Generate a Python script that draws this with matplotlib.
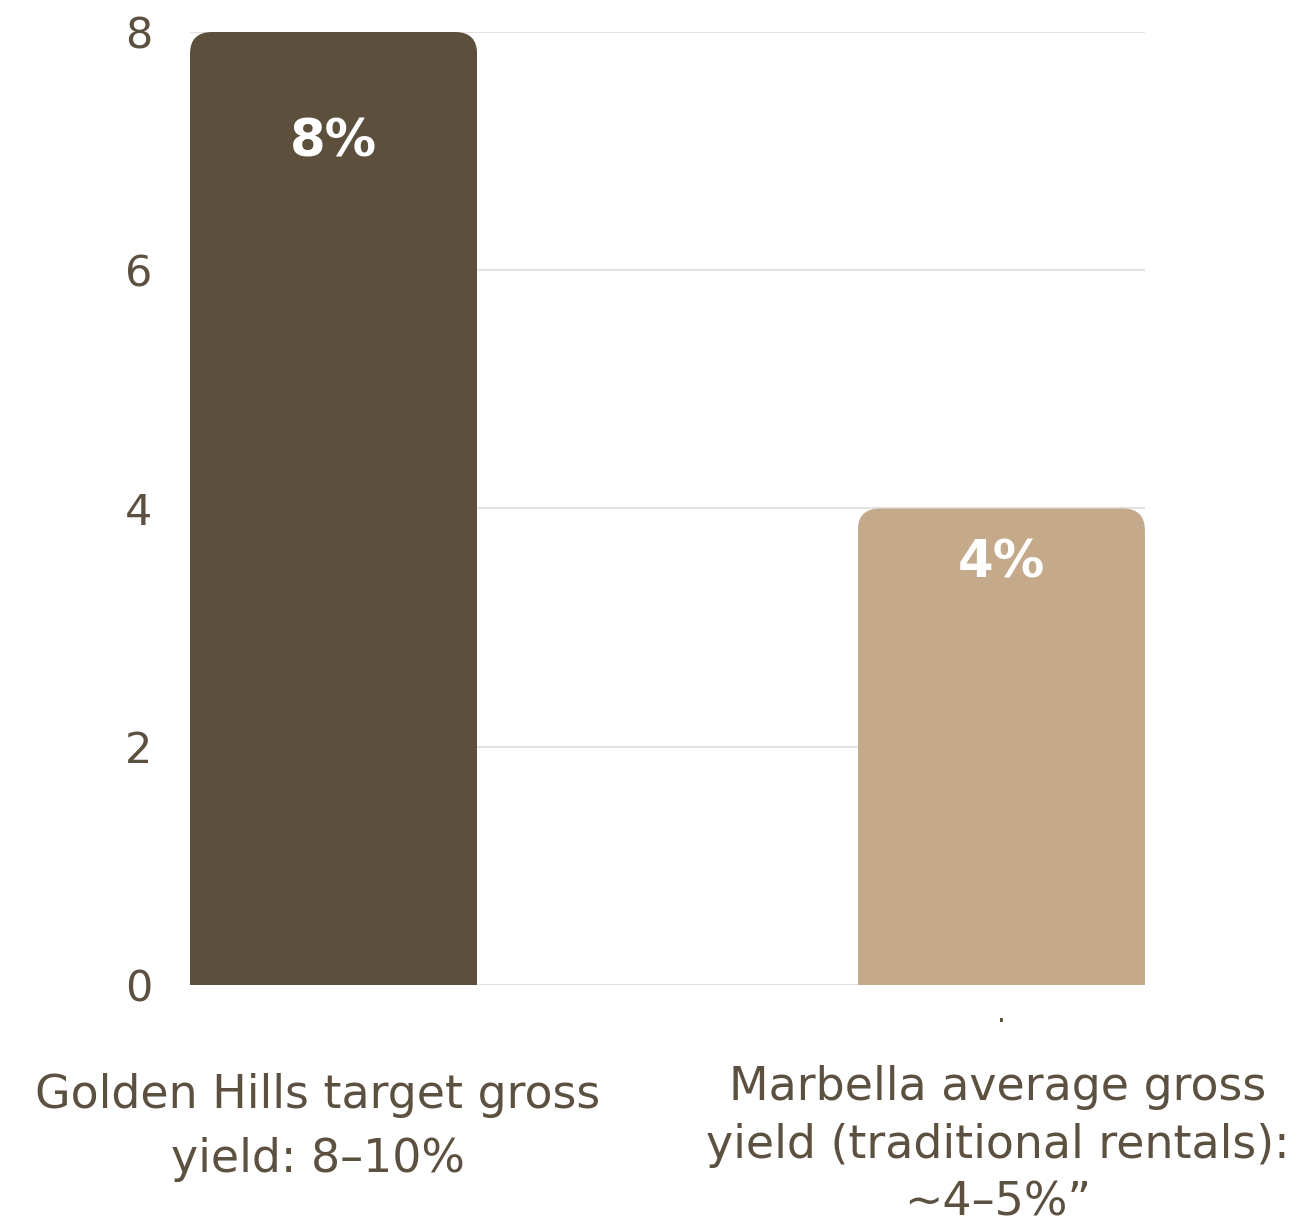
import matplotlib.pyplot as plt
from matplotlib.patches import FancyBboxPatch
from matplotlib.transforms import blended_transform_factory

categories = ["Golden Hills target gross\nyield: 8–10%",
              "Marbella average gross\nyield (traditional rentals):\n~4–5%\u201d"]
values = [8, 4]
bar_labels = ["8%", "4%"]
colors = ["#5c503d", "#c4a98a"]
text_color = "#5c5040"

plt.rcParams['font.family'] = ['DejaVu Sans']

fig = plt.figure(figsize=(13.03, 12.26), dpi=100)
ax = fig.add_axes([0.1458, 0.1966, 0.7329, 0.7773])

x = list(range(len(values)))
width = 0.43
bars = ax.bar(x, values, width, color=colors, zorder=2)

ax.set_xlim(-0.215, 1.215)
ax.set_ylim(0, 8)

# rounded top corners: clip each bar with a rounded box
rx, ry = 0.033, 0.185
for b in bars:
    clip = FancyBboxPatch((b.get_x(), -1), b.get_width(), b.get_height() + 1,
                          boxstyle="round,pad=0,rounding_size=%f" % rx,
                          mutation_aspect=ry / rx, transform=ax.transData,
                          facecolor="none", edgecolor="none")
    b.set_clip_path(clip)

# value labels inside bars
for i, (v, lab) in enumerate(zip(values, bar_labels)):
    ax.text(i, v * 0.884, lab, ha="center", va="center", color="white",
            fontsize=37, fontweight="bold", zorder=3)

ax.set_yticks([0, 2, 4, 6, 8])
ax.yaxis.grid(True, color="#e3e3e3", linewidth=1.5, zorder=0)
ax.set_axisbelow(True)
for s in ax.spines.values():
    s.set_visible(False)
ax.tick_params(axis="y", length=0, pad=27, labelsize=31, labelcolor=text_color)
ax.set_xticks([])

# category labels
trans = blended_transform_factory(ax.transData, ax.transAxes)
label_dx = [-0.024, -0.005]
label_y = [-0.092, -0.084]
label_ls = [1.55, 1.36]
for i, (cat, dx, yy, ls) in enumerate(zip(categories, label_dx, label_y, label_ls)):
    ax.text(i + dx, yy, cat, transform=trans, ha="center", va="top",
            fontsize=33, color=text_color, linespacing=ls, multialignment="center")
ax.text(1, -0.03, ".", transform=trans, ha="center", va="center",
        fontsize=20, color=text_color)

fig.savefig("out.png", dpi=100, facecolor="white")
